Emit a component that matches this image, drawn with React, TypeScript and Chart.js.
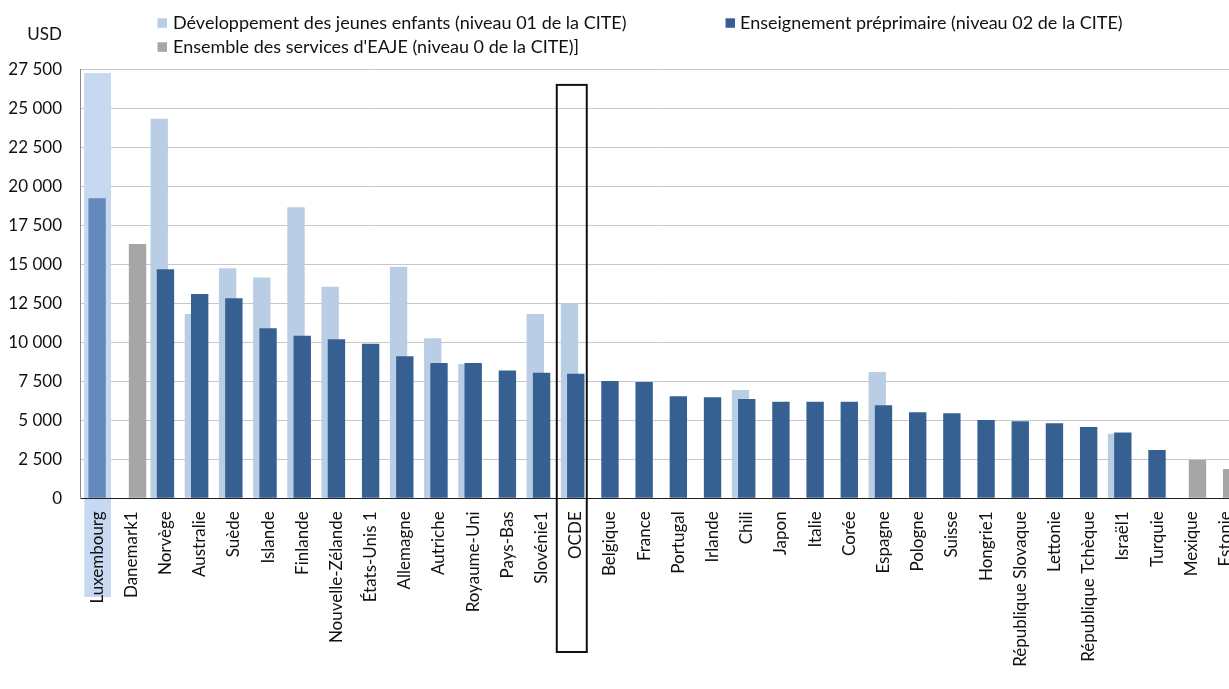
import React, { useEffect, useRef } from 'react';
import { Chart, registerables } from 'chart.js';

Chart.register(...registerables);

const categories = [
  'Luxembourg', 'Danemark1', 'Norvège', 'Australie', 'Suède', 'Islande', 'Finlande',
  'Nouvelle-Zélande', 'États-Unis 1', 'Allemagne', 'Autriche', 'Royaume-Uni', 'Pays-Bas',
  'Slovénie1', 'OCDE', 'Belgique', 'France', 'Portugal', 'Irlande', 'Chili', 'Japon',
  'Italie', 'Corée', 'Espagne', 'Pologne', 'Suisse', 'Hongrie1', 'République Slovaque',
  'Lettonie', 'République Tchèque', 'Israël1', 'Turquie', 'Mexique', 'Estonie',
];

// ISCED 01 – early childhood educational development
const isced01 = [
  27250, null, 24330, 11810, 14740, 14150, 18650, 13560, null, 14850, 10260, 8610, null,
  11810, 12460, null, null, null, null, 6940, null, null, null, 8100, null, null, null,
  null, null, null, 4140, null, null, null,
];

// ISCED 02 – pre-primary education
const isced02 = [
  19230, null, 14680, 13100, 12820, 10900, 10420, 10190, 9910, 9100, 8670, 8670, 8200,
  8050, 7990, 7520, 7460, 6540, 6470, 6370, 6190, 6190, 6190, 5960, 5510, 5450, 5020,
  4940, 4810, 4570, 4210, 3100, null, null,
];

// ISCED 0 – all ECEC services
const isced0 = [
  null, 16300, null, null, null, null, null, null, null, null, null, null, null, null,
  null, null, null, null, null, null, null, null, null, null, null, null, null, null,
  null, null, null, null, 2460, 1880,
];

const legendLabels = [
  'Développement des jeunes enfants (niveau 01 de la CITE)',
  'Enseignement préprimaire (niveau 02 de la CITE)',
  "Ensemble des services d'EAJE (niveau 0 de la CITE)]",
];

const yMax = 27500;
const yStep = 2500;
const unitLabel = 'USD';
const highlightIndex = 0; // Luxembourg
const boxIndex = 14; // OCDE
const boxTopValue = 26500;

const LIGHT = '#b9cde5';
const DARK = '#376092';
const GREY = '#a6a6a6';
const HL_LIGHT = '#c6d9f0';
const HL_DARK = '#6389bc';
const FONT = 'Lato, "Open Sans", sans-serif';
const FS = 17;
const LEGEND_FS = 18;

const fmt = (v: number) => String(v).replace(/\B(?=(\d{3})+(?!\d))/g, ' ');

const decor = {
  id: 'decor',
  beforeDraw(chart: any) {
    const { ctx } = chart;
    ctx.save();
    ctx.fillStyle = '#ffffff';
    ctx.fillRect(0, 0, chart.width, chart.height);
    const x = chart.scales.x;
    const y = chart.scales.y;
    const cx = x.getPixelForValue(highlightIndex);
    const top = y.getPixelForValue(isced01[highlightIndex] as number);
    ctx.fillStyle = HL_LIGHT;
    ctx.fillRect(cx - 12.8, top, 26.7, 597 - top);
    ctx.restore();
  },
  beforeDatasetsDraw(chart: any) {
    const { ctx, chartArea } = chart;
    const x = chart.scales.x;
    const y = chart.scales.y;
    const cx = x.getPixelForValue(highlightIndex);
    const top = y.getPixelForValue(isced01[highlightIndex] as number);
    ctx.save();
    ctx.fillStyle = HL_LIGHT;
    ctx.fillRect(cx - 12.8, top, 26.7, Math.floor(chartArea.bottom) - top);
    ctx.restore();
  },
  afterDatasetsDraw(chart: any) {
    const { ctx } = chart;
    const x = chart.scales.x;
    const y = chart.scales.y;
    // OCDE frame
    const cx = x.getPixelForValue(boxIndex);
    const top = y.getPixelForValue(boxTopValue);
    ctx.save();
    ctx.strokeStyle = '#111';
    ctx.lineWidth = 2;
    ctx.strokeRect(cx - 19, top, 30, 652 - top);
    ctx.restore();
  },
  afterDraw(chart: any) {
    const { ctx } = chart;
    ctx.save();
    ctx.font = `${FS}px ${FONT}`;
    ctx.fillStyle = '#111';
    ctx.textBaseline = 'middle';
    ctx.textAlign = 'right';
    ctx.fillText(unitLabel, 62, 35);
    ctx.textAlign = 'left';
    ctx.font = `${LEGEND_FS}px ${FONT}`;
    const items = [
      { color: LIGHT, sx: 157.5, tx: 173, y: 23 },
      { color: DARK, sx: 725.5, tx: 740, y: 23 },
      { color: GREY, sx: 157.5, tx: 173, y: 47 },
    ];
    items.forEach((it, i) => {
      ctx.fillStyle = it.color;
      ctx.fillRect(it.sx, it.y - 4.7, 9.5, 9.5);
      ctx.fillStyle = '#111';
      ctx.fillText(legendLabels[i], it.tx, it.y + 0.5);
    });
    ctx.restore();
  },
};

export default function App() {
  const ref = useRef<HTMLCanvasElement>(null);
  useEffect(() => {
    const canvas = ref.current!;
    const chart = new Chart(canvas, {
      type: 'bar',
      data: {
        labels: categories,
        datasets: [
          { label: '_slot', data: categories.map(() => null), stack: 'a', backgroundColor: 'transparent' },
          {
            label: legendLabels[1],
            data: isced02,
            stack: 'b',
            backgroundColor: categories.map((_, i) => (i === highlightIndex ? HL_DARK : DARK)),
          },
          {
            label: legendLabels[0],
            data: isced01,
            stack: 'a',
            backgroundColor: categories.map((_, i) => (i === highlightIndex ? 'rgba(0,0,0,0)' : LIGHT)),
          },
          { label: legendLabels[2], data: isced0, stack: 'c', backgroundColor: GREY },
        ] as any,
      },
      options: {
        animation: false,
        responsive: false,
        devicePixelRatio: 1,
        categoryPercentage: 0.5484,
        barPercentage: 2.78,
        layout: { padding: { left: 0, right: 7.5, top: 69.3, bottom: 0 } },
        plugins: { legend: { display: false }, tooltip: { enabled: false }, title: { display: false } },
        scales: {
          x: {
            grid: { display: false, drawTicks: false },
            border: { display: true, color: '#222', width: 1 },
            ticks: {
              autoSkip: false,
              minRotation: 90,
              maxRotation: 90,
              padding: 13,
              color: '#111',
              font: { family: FONT, size: FS },
            },
            afterFit: (s: any) => {
              s.height = 190.7;
              s.paddingLeft = 0;
              s.paddingRight = 0;
            },
          },
          y: {
            stacked: false,
            min: 0,
            max: yMax,
            grid: { color: '#c8c8c8', lineWidth: 1, drawTicks: false },
            border: { display: true, color: '#8a8a8a', width: 1 },
            ticks: {
              stepSize: yStep,
              padding: 18,
              color: '#111',
              font: { family: FONT, size: FS },
              callback: (v: any) => fmt(Number(v)),
            },
            afterFit: (s: any) => { s.width = 80; },
          },
        },
      } as any,
      plugins: [decor],
    });
    return () => chart.destroy();
  }, []);
  return (
    <div style={{ position: 'fixed', left: 0, top: 0, width: 1229, height: 689, overflow: 'hidden', background: '#fff' }}>
      <canvas ref={ref} width={1250} height={689} style={{ display: 'block' }} />
    </div>
  );
}
